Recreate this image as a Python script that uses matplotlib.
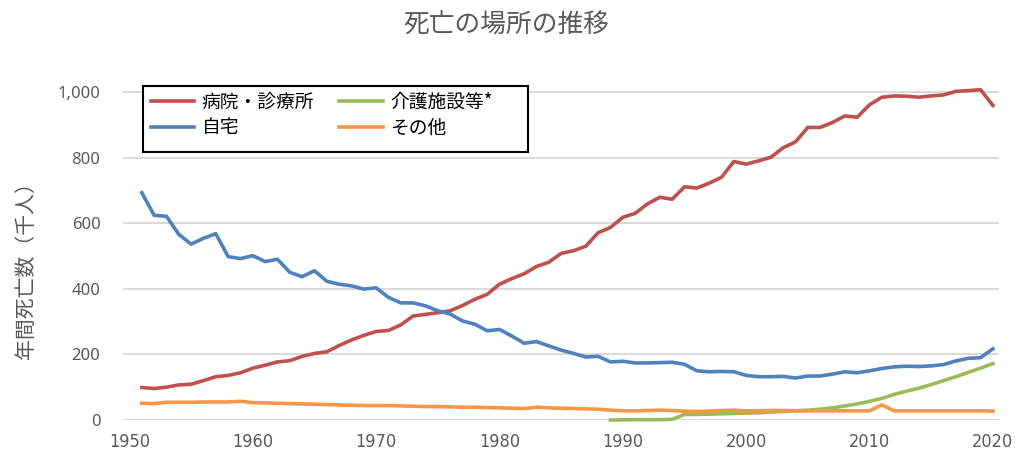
import numpy as np
import matplotlib
matplotlib.use("Agg")
import matplotlib.pyplot as plt
from matplotlib import font_manager
from matplotlib.patches import Rectangle

years = list(range(1951, 2021))

hospital = [99, 96, 100, 107, 109, 120, 132, 136, 144, 158,
            167, 177, 181, 194, 203, 208, 227, 244, 258, 270,
            273, 290, 317, 322, 327, 333, 349, 368, 383, 414,
            431, 446, 468, 481, 508, 516, 530, 571, 587, 618,
            630, 659, 679, 673, 711, 707, 722, 740, 788, 780,
            790, 801, 830, 848, 892, 892, 907, 927, 923, 961,
            984, 988, 987, 984, 988, 991, 1002, 1004, 1007, 959]

home = [693, 624, 621, 566, 536, 554, 568, 498, 492, 501,
        483, 490, 450, 437, 455, 423, 414, 409, 399, 403,
        374, 357, 357, 348, 333, 323, 302, 292, 272, 276,
        256, 234, 239, 226, 213, 203, 192, 194, 177, 179,
        174, 174, 175, 176, 170, 150, 147, 148, 147, 136,
        132, 132, 133, 128, 134, 134, 140, 147, 144, 150,
        157, 162, 164, 163, 165, 169, 180, 188, 190, 217]

care_years = list(range(1989, 2021))
care = [0, 0.5, 1, 1, 1, 2, 17, 17, 18, 19,
        20, 21, 22, 24, 26, 28, 30, 33, 37, 43,
        49, 57, 66, 78, 88, 97, 108, 120, 132, 145,
        158, 172]

other = [51, 50, 54, 54, 54, 55, 55, 55, 57, 53,
         52, 51, 50, 49, 48, 47, 46, 45, 44, 44,
         44, 43, 42, 41, 41, 40, 39, 39, 38, 37,
         36, 35, 39, 37, 36, 35, 34, 33, 30, 28,
         28, 29, 30, 29, 27, 26, 27, 29, 30, 28,
         28, 29, 29, 28, 28, 28, 28, 28, 28, 28,
         46, 28, 28, 28, 28, 28, 28, 28, 28, 27]

labels = ["病院・診療所", "自宅", "介護施設等*", "その他"]
colors = ["#C0504D", "#4F81BD", "#9BBB59", "#F79646"]

# look for a narrow font for the year labels
narrow_path = None
for f in font_manager.fontManager.ttflist:
    if "Narrow" in f.name or f.stretch in ("condensed", "semi-condensed", 600, 700):
        if f.weight in ("normal", "regular", 400) and f.style == "normal":
            narrow_path = f.fname
            break
if narrow_path:
    xfont = font_manager.FontProperties(fname=narrow_path, size=13)
else:
    xfont = font_manager.FontProperties(family="DejaVu Sans", size=12)

plt.rcParams['font.family'] = ['Noto Sans CJK JP', 'DejaVu Sans']

W, H = 1019, 462
fig = plt.figure(figsize=(W / 100, H / 100), dpi=100)
ax = fig.add_axes([0.1204, 0.0909, 0.860, 0.7526])

l1, = ax.plot(years, hospital, color=colors[0], lw=2.6, clip_on=False)
l2, = ax.plot(years, home, color=colors[1], lw=2.6, clip_on=False)
l3, = ax.plot(care_years, care, color=colors[2], lw=2.6, clip_on=False)
l4, = ax.plot(years, other, color=colors[3], lw=2.6, clip_on=False)

ax.set_xlim(1949.45, 2020.5)
ax.set_ylim(0, 1060)
ax.set_yticks(range(0, 1001, 200))
ax.set_yticklabels([f"{v:,}" for v in range(0, 1001, 200)], fontsize=12,
                   family=['Noto Sans', 'DejaVu Sans'], color="#595959")
ax.set_xticks(range(1950, 2021, 10))
ax.set_xticklabels([str(v) for v in range(1950, 2021, 10)], color="#595959")
for t in ax.get_xticklabels():
    t.set_fontproperties(xfont)
ax.tick_params(axis='y', length=0, pad=16)
ax.tick_params(axis='x', length=0, pad=9)
ax.grid(axis='y', color="#D9D9D9", lw=1.4)
ax.set_axisbelow(True)
for s in ax.spines.values():
    s.set_visible(False)

ax.set_ylabel("年間死亡数（千人）", fontsize=15, color="#595959")
ax.yaxis.set_label_coords(-0.098, 0.446)

fig.text(0.4966, 1 - 25 / H, "死亡の場所の推移", ha='center', va='center',
         fontsize=18.5, color="#595959")

# legend box (Excel style, extra space on the right)
ax.add_patch(Rectangle((143 / W, 1 - 152 / H), 385 / W, 66 / H,
                       transform=fig.transFigure, clip_on=False, facecolor="white",
                       edgecolor="black", lw=1.5, zorder=5))
leg = ax.legend([l1, l2, l3, l4], labels, ncol=2, loc='upper left',
                bbox_to_anchor=(151 / W, 1 - 92 / H), bbox_transform=fig.transFigure,
                borderaxespad=0, fontsize=13.5, frameon=False,
                handlelength=2.3, handletextpad=0.4, columnspacing=1.35,
                labelspacing=0.24, borderpad=0)
leg.set_zorder(6)

plt.savefig("out.png", dpi=100)
